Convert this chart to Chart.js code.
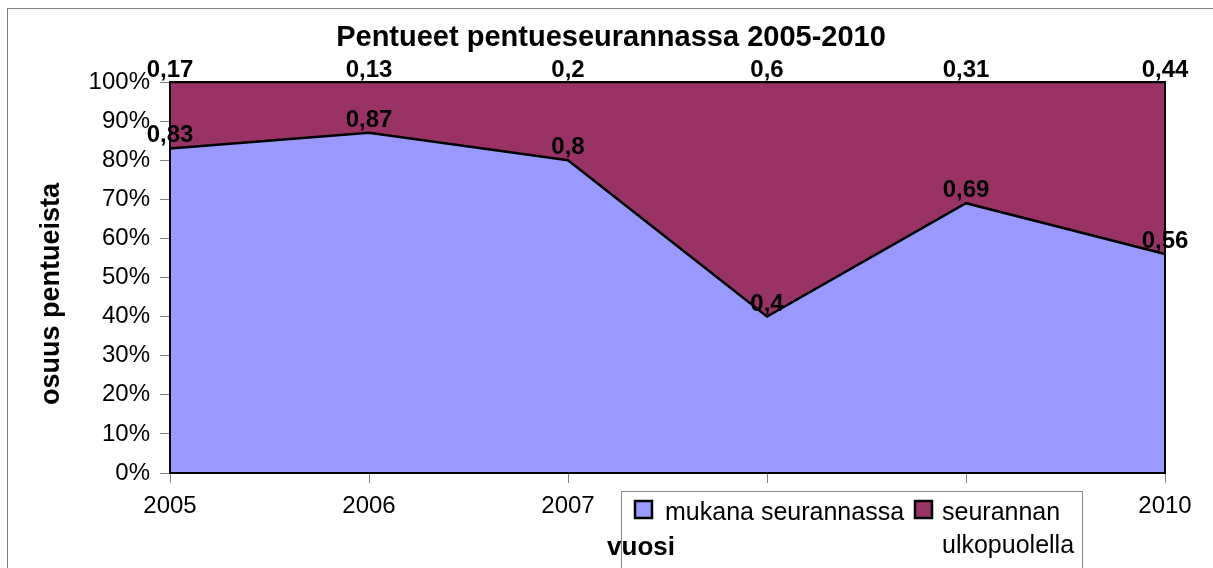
<!DOCTYPE html>
<html>
<head>
<meta charset="utf-8">
<title>Pentueet pentueseurannassa 2005-2010</title>
<script src="https://cdn.jsdelivr.net/npm/chart.js@4.4.0/dist/chart.umd.min.js"></script>
<style>
  body { margin: 0; background: #fff; }
  canvas { display: block; }
</style>
</head>
<body>
<canvas id="mychart" width="1213" height="568"></canvas>
<script>
// data
const years = ['2005', '2006', '2007', '2008', '2009', '2010'];
const mukana = [0.83, 0.87, 0.8, 0.4, 0.69, 0.56];
const ulkona = [0.17, 0.13, 0.2, 0.6, 0.31, 0.44];
const seriesNames = ['mukana seurannassa', 'seurannan ulkopuolella'];
const yTicks = [0, 0.1, 0.2, 0.3, 0.4, 0.5, 0.6, 0.7, 0.8, 0.9, 1];

const BLUE = '#9999FF';
const WINE = '#993366';

Chart.defaults.font.family = 'Arial, "Liberation Sans", sans-serif';
Chart.defaults.color = '#000';

function fi(v)
{
	return String(v).replace('.', ',');
}

// labels, border, legend box and axis titles drawn on top
const extras =
{
	id: 'extras',
	afterDraw(chart)
	{
		const ctx = chart.ctx;
		const a = chart.chartArea;
		const x = chart.scales.x;
		const y = chart.scales.y;

		ctx.save();

		// plot border
		ctx.strokeStyle = '#000';
		ctx.lineWidth = 2;
		ctx.strokeRect(a.left, a.top, a.right - a.left, a.bottom - a.top);

		// value labels
		ctx.font = 'bold 24px Arial, "Liberation Sans", sans-serif';
		ctx.fillStyle = '#000';
		ctx.textAlign = 'center';
		ctx.textBaseline = 'alphabetic';
		for (var i = 0; i < years.length; i++)
		{
			var px = x.getPixelForValue(i);
			ctx.fillText(fi(ulkona[i]), px, y.getPixelForValue(mukana[i] + ulkona[i]) - 5);
			ctx.fillText(fi(mukana[i]), px, y.getPixelForValue(mukana[i]) - 6);
		}

		// y axis title
		ctx.save();
		ctx.translate(52, 294);
		ctx.rotate(-Math.PI / 2);
		ctx.font = 'bold 27px Arial, "Liberation Sans", sans-serif';
		ctx.textBaseline = 'middle';
		ctx.fillText('osuus pentueista', 0, 0);
		ctx.restore();

		// legend box
		ctx.fillStyle = '#fff';
		ctx.fillRect(621, 491, 461, 90);
		ctx.strokeStyle = '#888';
		ctx.lineWidth = 1;
		ctx.strokeRect(621.5, 491.5, 461, 90);

		ctx.lineWidth = 2.5;
		ctx.strokeStyle = '#000';
		ctx.fillStyle = BLUE;
		ctx.fillRect(635, 501, 17, 17);
		ctx.strokeRect(635, 501, 17, 17);
		ctx.fillStyle = WINE;
		ctx.fillRect(915, 501, 17, 17);
		ctx.strokeRect(915, 501, 17, 17);

		ctx.fillStyle = '#000';
		ctx.font = '25px Arial, "Liberation Sans", sans-serif';
		ctx.textAlign = 'left';
		ctx.textBaseline = 'middle';
		ctx.fillText(seriesNames[0], 665, 513);
		ctx.fillText('seurannan', 942, 513);
		ctx.fillText('ulkopuolella', 942, 546);

		// x axis title (sits over the legend edge)
		ctx.font = 'bold 26px Arial, "Liberation Sans", sans-serif';
		ctx.textAlign = 'center';
		ctx.fillText('vuosi', 641, 548);

		// outer frame
		ctx.strokeStyle = '#808080';
		ctx.lineWidth = 1;
		ctx.strokeRect(7.5, 8.5, 1300, 700);

		ctx.restore();
	}
};

const config =
{
	type: 'line',
	data:
	{
		labels: years,
		datasets:
		[
			{
				label: seriesNames[0],
				data: mukana,
				backgroundColor: BLUE,
				borderColor: '#000',
				borderWidth: 2.5,
				fill: 'origin',
				pointRadius: 0,
				tension: 0
			},
			{
				label: seriesNames[1],
				data: ulkona,
				backgroundColor: WINE,
				borderColor: '#000',
				borderWidth: 2.5,
				fill: '-1',
				pointRadius: 0,
				tension: 0
			}
		]
	},
	options:
	{
		responsive: false,
		devicePixelRatio: 1,
		animation: false,
		layout: { padding: { left: 57, right: 48, top: 0, bottom: 0 } },
		plugins:
		{
			legend: { display: false },
			tooltip: { enabled: false },
			title:
			{
				display: true,
				text: 'Pentueet pentueseurannassa 2005-2010',
				color: '#000',
				font: { size: 29, weight: 'bold' },
				padding: { top: 21, bottom: 26.2 }
			}
		},
		scales:
		{
			x:
			{
				offset: false,
				border: { display: false },
				grid: { drawOnChartArea: false, drawTicks: true, tickLength: 10, color: '#808080' },
				ticks: { font: { size: 24 }, color: '#000', padding: 9, maxRotation: 0 },
				afterFit: function(s) { s.height = 95; }
			},
			y:
			{
				stacked: true,
				min: 0,
				max: 1,
				border: { display: false },
				grid: { drawOnChartArea: false, drawTicks: true, tickLength: 10, color: '#808080' },
				afterBuildTicks: function(s) { s.ticks = yTicks.map(function(v) { return { value: v }; }); },
				ticks:
				{
					font: { size: 24 },
					color: '#000',
					padding: 10,
					callback: function(v) { return Math.round(v * 100) + '%'; }
				},
				afterFit: function(s) { s.width = 113; }
			}
		}
	},
	plugins: [extras]
};

const chart = new Chart(document.getElementById('mychart').getContext('2d'), config);
</script>
</body>
</html>
